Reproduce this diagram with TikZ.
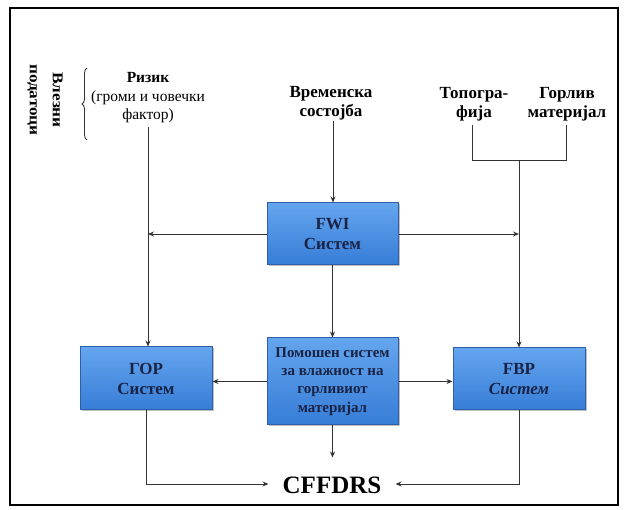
\documentclass[tikz,border=0pt]{standalone}
\usepackage{fontspec}
\setmainfont{Liberation Serif}
\usetikzlibrary{arrows.meta,decorations.pathreplacing,shadows}

\definecolor{boxtop}{RGB}{100,165,238}
\definecolor{boxbot}{RGB}{55,125,215}
\definecolor{boxline}{RGB}{45,95,170}
\definecolor{boxtext}{RGB}{25,35,70}

\begin{document}
\begin{tikzpicture}[x=1pt,y=-1pt,
  sysbox/.style={draw=boxline, line width=1pt, top color=boxtop, bottom color=boxbot,
    minimum width=131pt, minimum height=62pt, inner sep=0pt, align=center,
    font=\bfseries\fontsize{17}{20}\selectfont, text=boxtext,
    drop shadow={shadow xshift=1.5pt, shadow yshift=-1.5pt, fill=black!50, opacity=0.5}},
  lbl/.style={align=center, font=\bfseries\fontsize{17}{19}\selectfont, inner sep=0pt},
  arr/.style={-{Stealth[length=6pt,width=5pt]}, line width=0.9pt, draw=black!80},
  ln/.style={line width=0.9pt, draw=black!80}]

\useasboundingbox (0,0) rectangle (624,510);
\draw[line width=2pt] (10,8) rectangle (618,505);

% boxes
\node[sysbox] (fwi) at (332.5,234) {FWI\\Систем};
\node[sysbox, minimum height=87pt, font=\bfseries\fontsize{15}{18.3}\selectfont] (aux) at (332.5,381.5)
  {Помошен систем\\за влажност на\\горливиот\\материјал};
\node[sysbox, minimum width=132pt, minimum height=63pt] (fop) at (146,378.5) {ГОР\\Систем};
\node[sysbox, minimum width=132pt] (fbp) at (519,379) {FBP\\\textit{Систем}};

% labels
\node[lbl] (vrem) at (331,103) {Временска\\состојба};
\node[lbl] (topo) at (474,104) {Топогра-\\фија};
\node[lbl] (gor) at (567,104) {Горлив\\материјал};
\node[align=center, inner sep=0pt, font=\fontsize{15.5}{18.5}\selectfont] (rizik) at (148,98)
  {\textbf{Ризик}\\(громи и човечки\\фактор)};
\node[rotate=-90, align=center, inner sep=0pt, font=\bfseries\fontsize{15}{23}\selectfont] (vlez) at (45,100)
  {\scalebox{1.15}[1]{Влезни}\\\scalebox{1.15}[1]{податоци}};
\node[font=\bfseries\fontsize{25}{28}\selectfont, inner sep=2pt] (cff) at (332,485) {CFFDRS};

% brace
\coordinate (bb) at (87,140);
\coordinate (bt) at (87,68);
\draw[ln, decorate, decoration={brace, amplitude=5pt}] (bb) -- (bt);

% connector coordinates
\coordinate (rb) at (148,127);
\coordinate (tj0) at (472,125);
\coordinate (gj0) at (566,125);
\coordinate (tj) at (472,160);
\coordinate (gj) at (566,160);
\coordinate (fj) at (519,160);
\coordinate (vt) at (333,121);

% connectors
\draw[arr] (rb) -- (rb |- fop.north);
\draw[arr] (vt) -- (vt |- fwi.north);
\draw[ln] (tj0) -- (tj) -- (gj) -- (gj0);
\draw[arr] (fj) -- (fj |- fbp.north);
\draw[arr] (fwi.west) -- (fwi.west -| rb);
\draw[arr] (fwi.east) -- (fwi.east -| fj);
\draw[arr] (fwi.south) -- (aux.north);
\draw[arr] (aux.west) -- (aux.west -| fop.east);
\draw[arr] (aux.east) -- (aux.east -| fbp.west);
\draw[arr] (aux.south) -- ++(0,32);
\draw[arr] (fop.south) |- ([xshift=-12pt,yshift=1pt]cff.west);
\draw[arr] (fbp.south) |- ([xshift=12pt,yshift=1pt]cff.east);
\end{tikzpicture}
\end{document}
